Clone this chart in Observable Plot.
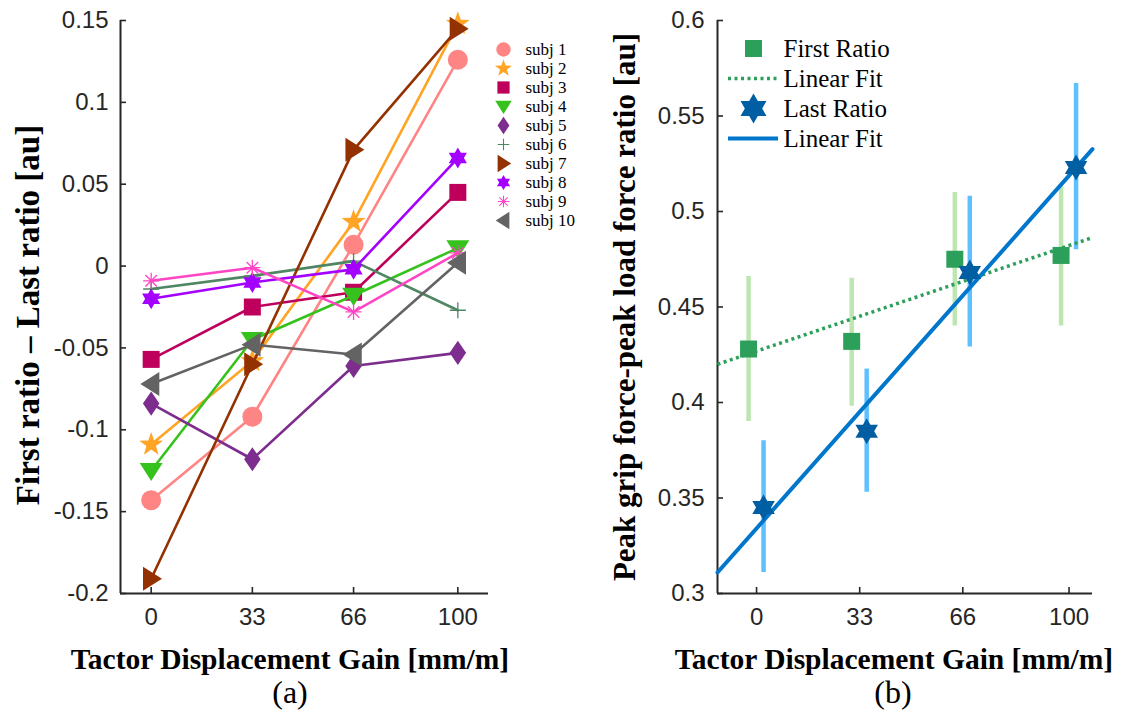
<!DOCTYPE html>
<html><head><meta charset="utf-8">
<script src="https://cdn.jsdelivr.net/npm/d3@7"></script>
<script src="https://cdn.jsdelivr.net/npm/@observablehq/plot@0.6"></script>
<style>
body{margin:0;background:#fff;}
#wrap{position:relative;width:1121px;height:713px;overflow:hidden;background:#fff;}
#wrap > svg, #wrap > div{position:absolute;}
.t{font-family:"Liberation Serif","Times New Roman",serif;color:#000;white-space:nowrap;line-height:1;}
</style></head>
<body><div id="wrap"></div>
<script>
// ---------- data ----------
const gains = [0, 33, 66, 100];
const subjects = ["subj 1","subj 2","subj 3","subj 4","subj 5","subj 6","subj 7","subj 8","subj 9","subj 10"];
const subj1  = [-0.143, -0.092,  0.013,  0.126];
const subj2  = [-0.109, -0.058,  0.027,  0.148];
const subj3  = [-0.057, -0.025, -0.016,  0.045];
const subj4  = [-0.125, -0.045, -0.018,  0.011];
const subj5  = [-0.084, -0.118, -0.061, -0.053];
const subj6  = [-0.014, -0.006,  0.003, -0.027];
const subj7  = [-0.191, -0.060,  0.071,  0.145];
const subj8  = [-0.020, -0.010, -0.002,  0.066];
const subj9  = [-0.009, -0.001, -0.028,  0.008];
const subj10 = [-0.072, -0.048, -0.054,  0.002];
const leftYTicks = [-0.2, -0.15, -0.1, -0.05, 0, 0.05, 0.1, 0.15];

const firstRatio   = [0.428, 0.432, 0.475, 0.477];
const firstLow     = [0.390, 0.398, 0.440, 0.440];
const firstHigh    = [0.466, 0.465, 0.510, 0.513];
const lastRatio    = [0.345, 0.385, 0.468, 0.523];
const lastLow      = [0.311, 0.353, 0.429, 0.480];
const lastHigh     = [0.380, 0.4175, 0.508, 0.567];
const fitIntercept = [0.4269, 0.3341];   // first, last
const fitSlope     = [0.000553, 0.001847];
const rightYTicks  = [0.3, 0.35, 0.4, 0.45, 0.5, 0.55, 0.6];
const legendRight  = ["First Ratio", "Linear Fit", "Last Ratio", "Linear Fit"];

// ---------- styles ----------
const subjValues = [subj1, subj2, subj3, subj4, subj5, subj6, subj7, subj8, subj9, subj10];
const colors = ["#FF8484","#FFA424","#BE005C","#36C21C","#7C2D8D","#4F8663","#943100","#A400FF","#FF45C6","#636363"];

function poly(pts){ return {draw(ctx, size){ const r = Math.sqrt(size/Math.PI);
  pts.forEach(([x,y],i)=> i ? ctx.lineTo(x*r,y*r) : ctx.moveTo(x*r,y*r)); ctx.closePath(); }}; }
function segs(list){ return {draw(ctx, size){ const r = Math.sqrt(size/Math.PI);
  list.forEach(([a,b,c,d])=>{ ctx.moveTo(a*r,b*r); ctx.lineTo(c*r,d*r); }); }}; }
function starPts(n, inner){ const p=[]; for(let k=0;k<2*n;k++){ const a=-Math.PI/2+k*Math.PI/n; const rr=k%2?inner:1; p.push([rr*Math.cos(a), rr*Math.sin(a)]);} return p; }
const symCircle = {draw(ctx,size){ const r=Math.sqrt(size/Math.PI); ctx.moveTo(r,0); ctx.arc(0,0,r,0,2*Math.PI); }};
const symStar5 = poly(starPts(5, 0.40));
const symSquare = poly([[-0.85,-0.85],[0.85,-0.85],[0.85,0.85],[-0.85,0.85]]);
const symTriDown = poly([[-1,-0.68],[1,-0.68],[0,0.9]]);
const symDiamond = poly([[0,-1.1],[0.75,0],[0,1.1],[-0.75,0]]);
const symPlus = segs([[-1,0,1,0],[0,-1,0,1]]);
const symTriRight = poly([[-0.68,-1],[-0.68,1],[0.9,0]]);
const symHex = poly(starPts(6, 1/Math.sqrt(3)));
const symAst = segs([[-1,0,1,0],[0,-1,0,1],[-0.72,-0.72,0.72,0.72],[-0.72,0.72,0.72,-0.72]]);
const symTriLeft = poly([[0.68,-1],[0.68,1],[-0.9,0]]);
const symbols = [symCircle, symStar5, symSquare, symTriDown, symDiamond, symPlus, symTriRight, symHex, symAst, symTriLeft];
const sizes = [10, 12.5, 10, 11.5, 11, 8, 12, 10.5, 8, 12];
const openSym = [false,false,false,false,false,true,false,false,true,false];

const wrap = document.getElementById("wrap");
const axisColor = "#262626";
const tickFont = "Liberation Sans, Arial, Helvetica, sans-serif";

// ---------- left panel ----------
const leftX = [-10, 110], leftY = [-0.2, 0.15];
const lW = 560, lH = 640, lML = 120, lMR = 72, lMT = 20, lMB = 47;
const lineMarks = [];
subjValues.forEach((vals, i) => {
  const rows = gains.map((g, j) => ({g, v: vals[j]}));
  lineMarks.push(Plot.line(rows, {x: "g", y: "v", stroke: colors[i], strokeWidth: 2.6}));
  lineMarks.push(Plot.dot(rows, {x: "g", y: "v", symbol: symbols[i], r: sizes[i],
    fill: openSym[i] ? "none" : colors[i], stroke: openSym[i] ? colors[i] : "none", strokeWidth: 1.3}));
});
const left = Plot.plot({
  width: lW, height: lH, marginLeft: lML, marginRight: lMR, marginTop: lMT, marginBottom: lMB,
  x: {domain: leftX}, y: {domain: leftY},
  style: {fontFamily: tickFont, fontSize: "24px", color: axisColor, background: "transparent", overflow: "visible"},
  marks: [
    Plot.axisX(gains, {tickSize: 0, tickPadding: 14, label: null, fontSize: 24, fill: axisColor}),
    Plot.axisY(leftYTicks, {tickSize: 0, tickPadding: 12, label: null, fontSize: 24, fill: axisColor, tickFormat: d => String(d)}),
    Plot.tickX(gains, {x: d => d, stroke: axisColor, strokeWidth: 1.6, insetTop: lH - lMT - lMB - 6}),
    Plot.tickY(leftYTicks, {y: d => d, stroke: axisColor, strokeWidth: 1.6, insetRight: lW - lML - lMR - 6}),
    Plot.ruleX([leftX[0]], {stroke: axisColor, strokeWidth: 2}),
    Plot.ruleY([leftY[0]], {stroke: axisColor, strokeWidth: 2}),
    ...lineMarks
  ]
});
left.style.left = "0px"; left.style.top = "0px";
wrap.appendChild(left);

// left legend
const legRows = subjects.map((s, i) => ({s, i}));
const legL = Plot.plot({
  width: 130, height: 250, margin: 0,
  x: {domain: [0, 1], range: [23, 60], axis: null},
  y: {type: "point", domain: subjects, range: [46, 223], padding: 0, axis: null},
  style: {background: "transparent", overflow: "visible"},
  marks: [
    ...legRows.map(d => Plot.dot([d], {x: () => 0, y: "s", symbol: symbols[d.i], r: sizes[d.i] * 0.72,
      fill: openSym[d.i] ? "none" : colors[d.i], stroke: openSym[d.i] ? colors[d.i] : "none", strokeWidth: 1.1})),
    Plot.text(legRows, {x: () => 0, y: "s", text: "s", dx: 22, textAnchor: "start", fontFamily: "Liberation Serif, Times New Roman, serif", fontSize: 17, fill: "#000"})
  ]
});
legL.style.left = "480px"; legL.style.top = "0px";
wrap.appendChild(legL);

// ---------- right panel ----------
const rightX = [-12.5, 107.5], rightY = [0.3, 0.6];
const rW = 561, rH = 640, rML = 157, rMR = 29, rMT = 20, rMB = 47;
const firstRows = gains.map((g, j) => ({g, v: firstRatio[j], lo: firstLow[j], hi: firstHigh[j]}));
const lastRows  = gains.map((g, j) => ({g, v: lastRatio[j],  lo: lastLow[j],  hi: lastHigh[j]}));
const fitRows = k => rightX.map(x => ({x, y: fitIntercept[k] + fitSlope[k] * x}));
const right = Plot.plot({
  width: rW, height: rH, marginLeft: rML, marginRight: rMR, marginTop: rMT, marginBottom: rMB,
  x: {domain: rightX}, y: {domain: rightY},
  style: {fontFamily: tickFont, fontSize: "24px", color: axisColor, background: "transparent", overflow: "visible"},
  marks: [
    Plot.axisX(gains, {tickSize: 0, tickPadding: 14, label: null, fontSize: 24, fill: axisColor}),
    Plot.axisY(rightYTicks, {tickSize: 0, tickPadding: 13, label: null, fontSize: 24, fill: axisColor, tickFormat: d => String(d)}),
    Plot.tickX(gains, {x: d => d, stroke: axisColor, strokeWidth: 1.6, insetTop: rH - rMT - rMB - 6}),
    Plot.tickY(rightYTicks, {y: d => d, stroke: axisColor, strokeWidth: 1.6, insetRight: rW - rML - rMR - 6}),
    Plot.ruleX([rightX[0]], {stroke: axisColor, strokeWidth: 2}),
    Plot.ruleY([rightY[0]], {stroke: axisColor, strokeWidth: 2}),
    Plot.ruleX(firstRows, {x: "g", y1: "lo", y2: "hi", dx: -8, stroke: "#BDE6B1", strokeWidth: 4.5}),
    Plot.ruleX(lastRows,  {x: "g", y1: "lo", y2: "hi", dx: 7,  stroke: "#5FC0FF", strokeWidth: 4.5}),
    Plot.line(fitRows(0), {x: "x", y: "y", stroke: "#2C9F5A", strokeWidth: 3.5, strokeDasharray: "3 3.5", strokeLinecap: "butt"}),
    Plot.line(fitRows(1), {x: "x", y: "y", stroke: "#0077CC", strokeWidth: 4}),
    Plot.dot(firstRows, {x: "g", y: "v", dx: -8, symbol: symSquare, r: 10, fill: "#2C9F5A"}),
    Plot.dot(lastRows,  {x: "g", y: "v", dx: 7,  symbol: symHex, r: 13, fill: "#005FA3"})
  ]
});
right.style.left = "560px"; right.style.top = "0px";
wrap.appendChild(right);

// right legend
const legKeys = legendRight.map((label, i) => ({key: "k" + i, label, i}));
const legR = Plot.plot({
  width: 260, height: 170, margin: 0,
  x: {domain: [0, 1], range: [28, 78], axis: null},
  y: {type: "point", domain: legKeys.map(d => d.key), range: [46.5, 139], padding: 0, axis: null},
  style: {background: "transparent", overflow: "visible"},
  marks: [
    Plot.dot([legKeys[0]], {x: () => 0.5, y: "key", symbol: symSquare, r: 10, fill: "#2C9F5A"}),
    Plot.ruleY([legKeys[1]], {y: "key", x1: () => 0, x2: () => 1, stroke: "#2C9F5A", strokeWidth: 3.5, strokeDasharray: "3 3.5", strokeLinecap: "butt"}),
    Plot.dot([legKeys[2]], {x: () => 0.5, y: "key", symbol: symHex, r: 15, fill: "#005FA3"}),
    Plot.ruleY([legKeys[3]], {y: "key", x1: () => 0, x2: () => 1, stroke: "#0077CC", strokeWidth: 4}),
    Plot.text(legKeys, {x: () => 1, y: "key", text: "label", dx: 5, textAnchor: "start", fontFamily: "Liberation Serif, Times New Roman, serif", fontSize: 25, fill: "#000"})
  ]
});
legR.style.left = "700px"; legR.style.top = "0px";
wrap.appendChild(legR);

// ---------- titles ----------
function addText(txt, x, y, size, bold, rotate){
  const d = document.createElement("div");
  d.className = "t"; d.textContent = txt;
  d.style.left = x + "px"; d.style.top = y + "px";
  d.style.fontSize = size + "px"; d.style.fontWeight = bold ? "bold" : "normal";
  d.style.transform = "translate(-50%,-50%)" + (rotate ? " rotate(-90deg)" : "");
  wrap.appendChild(d);
}
addText("First ratio \u2013 Last ratio [au]", 28, 315, 33, true, true);
addText("Peak grip force-peak load force ratio [au]", 624, 307, 31, true, true);
addText("Tactor Displacement Gain [mm/m]", 290, 660, 29.5, true, false);
addText("Tactor Displacement Gain [mm/m]", 894, 660, 29.5, true, false);
addText("(a)", 290, 692, 32, false, false);
addText("(b)", 893, 692, 32, false, false);
</script>
</body></html>
